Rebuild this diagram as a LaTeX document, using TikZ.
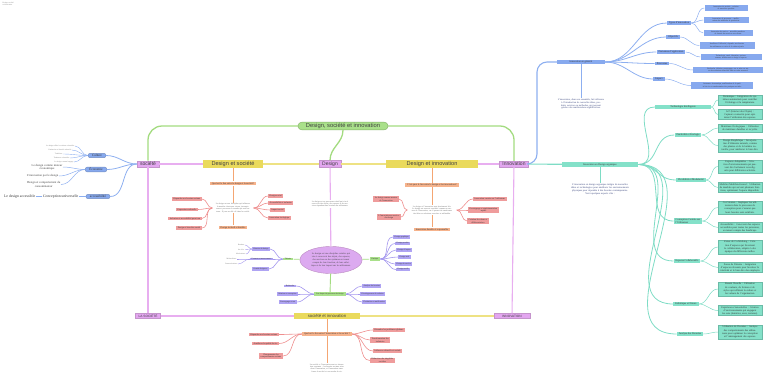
\documentclass[tikz,border=0pt]{standalone}
\usepackage{fontspec}
\setmainfont{Liberation Serif}
\newfontfamily\headfont{Liberation Sans}
\usetikzlibrary{shapes.geometric}
\definecolor{grnline}{HTML}{A3DB80}
\definecolor{grnfill}{HTML}{A9E08A}
\definecolor{magline}{HTML}{E8AEF0}
\definecolor{magfill}{HTML}{E3A6F0}
\definecolor{yelline}{HTML}{EEE283}
\definecolor{yelfill}{HTML}{EADA5C}
\definecolor{oraline}{HTML}{F4A673}
\definecolor{orafill}{HTML}{F6B38C}
\definecolor{redline}{HTML}{EE8E8E}
\definecolor{redfill}{HTML}{EF9C9C}
\definecolor{purline}{HTML}{A497EE}
\definecolor{purfill}{HTML}{AFA4F3}
\definecolor{bluline}{HTML}{8DAFF0}
\definecolor{blufill}{HTML}{87A9EE}
\definecolor{tealine}{HTML}{7EDCC5}
\definecolor{teafill}{HTML}{84E1C9}
\definecolor{elfill}{HTML}{DCAAF0}
\definecolor{navytext}{HTML}{34407A}
\begin{document}
\begin{tikzpicture}[x=1pt,y=-1pt,
  root/.style={draw=grnline!80!black, fill=grnfill, rounded corners=4pt, inner xsep=8pt, inner ysep=1.2pt, font=\headfont\fontsize{5.8}{6}\selectfont, text=black!75},
  topic/.style={draw=magline!85!black, fill=magfill, inner xsep=3pt, inner ysep=1.2pt, font=\headfont\fontsize{5}{5.5}\selectfont, text=black!75},
  subtopic/.style={fill=yelfill, inner ysep=1.3pt, font=\headfont\fontsize{5.6}{6}\selectfont, text=black!75},
  question/.style={fill=orafill, inner xsep=2pt, inner ysep=0.8pt, font=\fontsize{2.4}{2.8}\selectfont, text=black!80},
  redbox/.style={fill=redfill, inner xsep=1.5pt, inner ysep=0.8pt, font=\fontsize{2.2}{2.6}\selectfont, align=center, text=black!80},
  purbox/.style={fill=purfill, inner xsep=1.5pt, inner ysep=0.7pt, font=\fontsize{2}{2.4}\selectfont, text=black!80},
  grnbox/.style={fill=grnfill, inner xsep=2pt, inner ysep=0.7pt, font=\fontsize{2}{2.4}\selectfont, text=black!80},
  blubox/.style={fill=blufill, inner xsep=2pt, inner ysep=1pt, font=\fontsize{2.6}{3}\selectfont, text=black!80},
  sidebox/.style={blubox, draw=bluline!80!black, rounded corners=2pt, inner xsep=4pt, font=\fontsize{3.3}{3.6}\selectfont},
  bluleaf/.style={fill=blufill, inner sep=1pt, font=\fontsize{1.9}{2.3}\selectfont, align=center, text=black!80},
  teabox/.style={fill=teafill, inner xsep=2pt, inner ysep=1pt, font=\fontsize{2.6}{3}\selectfont, align=left, text=black!80},
  tealeaf/.style={fill=teafill, draw=tealine!85!black, line width=0.2pt, inner xsep=1pt, inner ysep=0.8pt, text width=42pt, font=\fontsize{2.55}{3.1}\selectfont, align=center, text=black!80},
  para/.style={fill=white, inner sep=0.5pt, align=center, font=\fontsize{2}{2.45}\selectfont, text=black!60},
  tiny/.style={inner sep=0.5pt, font=\fontsize{1.8}{2.2}\selectfont, text=black!55},
  grn/.style={draw=grnline, line width=1.3pt},
  mag/.style={draw=magline, line width=1.1pt},
  yel/.style={draw=yelline, line width=1.1pt},
  ora/.style={draw=oraline, line width=0.9pt},
  red/.style={draw=redline, line width=0.6pt},
  pur/.style={draw=purline, line width=0.6pt},
  blu/.style={draw=bluline, line width=0.8pt},
  tea/.style={draw=tealine, line width=0.8pt}
]
\useasboundingbox (0,0) rectangle (768,381);

\node[tiny, anchor=north west, align=left] (corner) at (2,1.5) {Design, société\\et innovation};

\node[root] (title) at (343,126) {Design, société et innovation};
\node[topic] (soc) at (148,164) {société};
\node[subtopic, minimum width=60pt] (ds) at (233,164) {Design et société};
\node[topic] (design) at (330,164) {Design};
\node[subtopic, minimum width=92pt] (di) at (432,164) {Design et innovation};
\node[topic] (innov) at (514,164) {Innovation};
\node[topic, font=\headfont\fontsize{3.2}{3.6}\selectfont] (lasoc) at (148,316) {LA SOCIÉTÉ};
\node[subtopic, minimum width=66pt, font=\headfont\fontsize{4.2}{4.6}\selectfont] (si) at (327,316) {société et innovation};
\node[topic, font=\headfont\fontsize{3.2}{3.6}\selectfont, minimum width=36pt] (lainno) at (512,316) {INNOVATION};

\draw[grn, rounded corners=14pt] (title.west) -| (soc.north);
\draw[grn, rounded corners=14pt] (title.east) -| (innov.north);
\draw[grn] (title.south) to[out=-90,in=90] (design.north);
\draw[mag] (soc) -- (ds);
\draw[yel] (ds) -- (design);
\draw[yel] (design) -- (di);
\draw[mag] (di) -- (innov);
\draw[mag] (soc) -- (lasoc);
\draw[mag] (innov) -- (lainno);
\draw[mag] (lasoc) -- (si);
\draw[yel] (si) -- (lainno);

% societe, branches bleues
\node[sidebox] (cult) at (97,155.5) {Culture};
\node[sidebox] (eco) at (96,169.5) {Économie};
\node[sidebox] (acc) at (98,196.5) {accessibilité};
\draw[blu] (soc.west) to[out=180,in=0] (cult.east);
\draw[blu] (soc.west) to[out=180,in=0] (eco.east);
\draw[blu] (soc.west) to[out=180,in=0] (acc.east);
\node[tiny, anchor=east] (cc1) at (75,146) {Le design reflète les valeurs culturelles};
\node[tiny, anchor=east] (cc2) at (72,150) {Patrimoine et identité culturelle};
\node[tiny, anchor=east] (cc3) at (63,154) {Traditions};
\node[tiny, anchor=east] (cc4) at (70,158) {Tendances culturelles};
\node[tiny, anchor=east] (cc5) at (74,162) {Le design comme langage};
\draw[blu, line width=0.4pt] (cult.west) to[out=180,in=0] (cc1.east);
\draw[blu, line width=0.4pt] (cult.west) to[out=180,in=0] (cc2.east);
\draw[blu, line width=0.4pt] (cult.west) to[out=180,in=0] (cc3.east);
\draw[blu, line width=0.4pt] (cult.west) to[out=180,in=0] (cc4.east);
\draw[blu, line width=0.4pt] (cult.west) to[out=180,in=0] (cc5.east);
\node[tiny, anchor=east, align=center, font=\fontsize{3}{3.3}\selectfont, text=black!75] (ec1) at (63,167) {Le design comme moteur\\économique};
\node[tiny, anchor=east, font=\fontsize{3}{3.3}\selectfont, text=black!75] (ec2) at (59,176) {L'innovation par le design};
\node[tiny, anchor=east, align=center, font=\fontsize{3}{3.3}\selectfont, text=black!75] (ec3) at (61,184.5) {Design et comportement du\\consommateur};
\draw[blu, line width=0.5pt] (eco.west) to[out=180,in=0] (ec1.east);
\draw[blu, line width=0.5pt] (eco.west) to[out=180,in=0] (ec2.east);
\draw[blu, line width=0.5pt] (eco.west) to[out=180,in=0] (ec3.east);
\node[tiny, anchor=east, font=\fontsize{3.8}{4.2}\selectfont, text=black!80] (ac1) at (79,196.5) {Conception universelle};
\node[tiny, anchor=east, font=\fontsize{3.8}{4.2}\selectfont, text=black!80] (ac2) at (36,196.5) {Le design accessible};
\draw[blu, line width=0.5pt] (acc.west) -- (ac1.east);
\draw[blu, line width=0.5pt] (ac1.west) -- (ac2.east);

% design et societe
\node[question] (dsq) at (233,183.5) {Quel est le lien entre le design et la société?};
\node[para, text width=40pt] (dsp) at (233,208) {Le design est une discipline qui influence la manière dont nous vivons, interagissons et percevons le monde qui nous entoure. Il joue un rôle clé dans la société.};
\node[question] (dsb) at (233,227.5) {Design inclusif et durable};
\draw[ora] (ds) -- (dsq);
\draw[ora] (dsq) -- (dsp);
\draw[ora] (dsp) -- (dsb);
\node[redbox, anchor=east] (dsl1) at (202,199) {Répondre aux besoins sociaux};
\node[redbox, anchor=east] (dsl2) at (198,209.5) {Expression culturelle};
\node[redbox, anchor=east] (dsl3) at (202,218.5) {Inclusion et accessibilité pour tous};
\node[redbox, anchor=east] (dsl4) at (202,228) {Design et bien-être social};
\node[redbox, anchor=west] (dsr1) at (268,196) {Design social};
\node[redbox, anchor=west] (dsr2) at (268,203) {Accessibilité et inclusion};
\node[redbox, anchor=west] (dsr3) at (270,210) {Impact social};
\node[redbox, anchor=west] (dsr4) at (268,218) {Innovation écologique};
\draw[red] (dsp.west) to[out=180,in=0] (dsl1.east);
\draw[red] (dsp.west) to[out=180,in=0] (dsl2.east);
\draw[red] (dsp.west) to[out=180,in=0] (dsl3.east);
\draw[red] (dsp.west) to[out=180,in=0] (dsl4.east);
\draw[red] (dsp.east) to[out=0,in=180] (dsr1.west);
\draw[red] (dsp.east) to[out=0,in=180] (dsr2.west);
\draw[red] (dsp.east) to[out=0,in=180] (dsr3.west);
\draw[red] (dsp.east) to[out=0,in=180] (dsr4.west);

% design
\node[ellipse, draw=magline!80!black, fill=elfill, minimum width=62pt, minimum height=27pt, text width=44pt, align=center, inner sep=0pt, font=\fontsize{2.3}{2.8}\selectfont, text=black!75] (el) at (331,260) {Le design est une discipline créative qui vise à concevoir des objets, des espaces, des services ou des systèmes en tenant compte de leur fonction, de leur esthétique et de leur impact sur les utilisateurs.};
\draw[mag] (design) -- (el);
\node[para, text width=38pt] (dp) at (330,204) {Le design est un processus créatif qui vise à concevoir des objets, des espaces et des services répondant aux besoins des utilisateurs.};
\node[grnbox] (dth) at (288,259) {Théorie};
\node[grnbox] (dpr) at (375,259) {Pratique};
\draw[grn, line width=0.7pt] (el) -- (dth);
\draw[grn, line width=0.7pt] (el) -- (dpr);
\node[purbox, anchor=east] (dl1) at (270,249) {Histoire du design};
\node[purbox, anchor=east] (dl2) at (273,259) {Courants et mouvements};
\node[purbox, anchor=east] (dl3) at (269,269) {Grands designers};
\draw[pur] (dth.west) to[out=180,in=0] (dl1.east);
\draw[pur] (dth.west) to[out=180,in=0] (dl2.east);
\draw[pur] (dth.west) to[out=180,in=0] (dl3.east);
\node[tiny, anchor=east] (dg1) at (245,245) {Bauhaus};
\node[tiny, anchor=east] (dg2) at (245,249.5) {Art déco};
\node[tiny, anchor=east] (dg3) at (246,254) {Modernisme};
\node[tiny, anchor=east] (dg4) at (237,259) {Minimalisme};
\node[tiny, anchor=east] (dg5) at (238,264) {Postmodernisme};
\draw[pur, line width=0.4pt] (dl1.west) to[out=180,in=0] (dg1.east);
\draw[pur, line width=0.4pt] (dl1.west) to[out=180,in=0] (dg2.east);
\draw[pur, line width=0.4pt] (dl1.west) to[out=180,in=0] (dg3.east);
\draw[pur, line width=0.4pt] (dl2.west) to[out=180,in=0] (dg4.east);
\draw[pur, line width=0.4pt] (dl2.west) to[out=180,in=0] (dg5.east);
\node[purbox, anchor=west] (dr1) at (393,237) {Design graphique};
\node[purbox, anchor=west] (dr2) at (395,243.5) {Design produit};
\node[purbox, anchor=west] (dr3) at (396,250) {Design d'espace};
\node[purbox, anchor=west] (dr4) at (398,257) {Design web};
\node[purbox, anchor=west] (dr5) at (395,264) {Design de service};
\node[purbox, anchor=west] (dr6) at (396,269.5) {Design textile};
\draw[pur] (dpr.east) to[out=0,in=180] (dr1.west);
\draw[pur] (dpr.east) to[out=0,in=180] (dr2.west);
\draw[pur] (dpr.east) to[out=0,in=180] (dr3.west);
\draw[pur] (dpr.east) to[out=0,in=180] (dr4.west);
\draw[pur] (dpr.east) to[out=0,in=180] (dr5.west);
\draw[pur] (dpr.east) to[out=0,in=180] (dr6.west);
\node[grnbox] (dproc) at (330,294) {Les étapes du processus de design};
\draw[grn, line width=0.9pt] (el) -- (dproc);
\node[purbox, anchor=east] (dpl1) at (296,286) {Recherche};
\node[purbox, anchor=east] (dpl2) at (298,294) {Idéation et conception};
\node[purbox, anchor=east] (dpl3) at (297,302) {Prototypage et test};
\node[purbox, anchor=west] (dpr1) at (362,286) {Analyse des besoins};
\node[purbox, anchor=west] (dpr2) at (360,294) {Développement de solution};
\node[purbox, anchor=west] (dpr3) at (362,302) {Évaluation et amélioration};
\draw[pur] (dproc.west) to[out=180,in=0] (dpl1.east);
\draw[pur] (dproc.west) to[out=180,in=0] (dpl2.east);
\draw[pur] (dproc.west) to[out=180,in=0] (dpl3.east);
\draw[pur] (dproc.east) to[out=0,in=180] (dpr1.west);
\draw[pur] (dproc.east) to[out=0,in=180] (dpr2.west);
\draw[pur] (dproc.east) to[out=0,in=180] (dpr3.west);

% design et innovation
\node[question] (diq) at (432,185) {C'est quoi le lien entre le design et les innovations?};
\node[para, text width=48pt] (dip) at (432,210) {Le design et l'innovation sont étroitement liés. Le design est souvent considéré comme un moteur de l'innovation, car il permet de transformer des idées en solutions concrètes et utilisables.};
\node[question] (dib) at (432,229.5) {Innovation durable et responsable};
\draw[ora] (di) -- (diq);
\draw[ora] (diq) -- (dip);
\draw[ora] (dip) -- (dib);
\node[redbox, anchor=east] (dil1) at (399,199) {Le design comme moteur\\de l'innovation};
\node[redbox, anchor=east] (dil2) at (401,217) {L'innovation au service\\du design};
\node[redbox, anchor=west] (dir1) at (473,199) {Innovation centrée sur l'utilisateur};
\node[redbox, anchor=west] (dir2) at (468,210) {Prototypage et expérimentation\\rapide};
\node[redbox, anchor=west] (dir3) at (467,221) {Création de valeur et\\différenciation};
\draw[red] (dip.west) to[out=180,in=0] (dil1.east);
\draw[red] (dip.west) to[out=180,in=0] (dil2.east);
\draw[red] (dip.east) to[out=0,in=180] (dir1.west);
\draw[red] (dip.east) to[out=0,in=180] (dir2.west);
\draw[red] (dip.east) to[out=0,in=180] (dir3.west);

% societe et innovation
\node[question] (siq) at (327,334) {Quel est le lien entre l'innovation et la société ?};
\node[para, text width=42pt] (sip) at (327,368) {La société et l'innovation sont en interaction constante : les besoins sociaux stimulent l'innovation, et l'innovation transforme la société et nos modes de vie.};
\draw[ora] (si) -- (siq);
\draw[ora] (siq) -- (sip);
\node[redbox, anchor=east] (sil1) at (279,334.5) {Répondre aux besoins sociaux};
\node[redbox, anchor=east] (sil2) at (279,343.5) {Améliorer la qualité de vie};
\node[redbox, anchor=east] (sil3) at (283,356) {Changements des\\comportements sociaux};
\node[redbox, anchor=west] (sir1) at (373,330) {Résoudre les problèmes globaux};
\node[redbox, anchor=west] (sir2) at (370,340) {Transformation des\\industries};
\node[redbox, anchor=west] (sir3) at (373,351) {Influence culturelle et sociale};
\node[redbox, anchor=west] (sir4) at (370,360.5) {Réduction des inégalités\\sociales};
\draw[red] (siq.west) to[out=180,in=0] (sil1.east);
\draw[red] (siq.west) to[out=180,in=0] (sil2.east);
\draw[red] (siq.west) to[out=180,in=0] (sil3.east);
\draw[red] (siq.east) to[out=0,in=180] (sir1.west);
\draw[red] (siq.east) to[out=0,in=180] (sir2.west);
\draw[red] (siq.east) to[out=0,in=180] (sir3.west);
\draw[red] (siq.east) to[out=0,in=180] (sir4.west);

% innovation en general
\node[blubox, minimum width=48pt] (ig) at (581,62) {Innovation en général};
\draw[blu, line width=1.1pt, rounded corners=10pt] (innov.east) -- (537,164) |- (ig.west);
\node[para, text width=54pt, fill=none, font=\fontsize{2.4}{2.9}\selectfont, text=navytext] (igp) at (581,104) {L'innovation, dans son ensemble, fait référence à l'introduction de nouvelles idées, produits, services ou méthodes, qui peuvent générer des améliorations significatives.};
\draw[blu] (ig) -- (igp);
\node[blubox] (ig1) at (679,23) {Types d'innovation};
\node[blubox] (ig2) at (673,37) {Objectifs};
\node[blubox] (ig3) at (671,52) {Domaines d'application};
\node[blubox] (ig4) at (662,63.5) {Processus};
\node[blubox] (ig5) at (659,79) {Impact};
\draw[blu] (ig.east) to[out=0,in=180] (ig1.west);
\draw[blu] (ig.east) to[out=0,in=180] (ig2.west);
\draw[blu] (ig.east) to[out=0,in=180] (ig3.west);
\draw[blu] (ig.east) to[out=0,in=180] (ig4.west);
\draw[blu] (ig.east) to[out=0,in=180] (ig5.west);
\node[bluleaf, text width=41pt] (igl1) at (726,8) {Innovation de produit : création\\de nouveaux produits};
\node[bluleaf, text width=43pt] (igl2) at (726,20) {Innovation de processus : amélioration des méthodes de production};
\node[bluleaf, text width=47pt] (igl3) at (728,33) {Innovation de service : nouvelles manières de fournir des services aux clients};
\node[bluleaf, text width=53pt] (igl4) at (727,45.5) {Améliorer l'efficacité, répondre aux besoins des utilisateurs et créer de la valeur ajoutée};
\node[bluleaf, text width=59pt] (igl5) at (731,57) {Technologie, santé, éducation, environnement, architecture et design d'espaces};
\node[bluleaf, text width=68pt] (igl6) at (728,70) {Recherche, idéation, prototypage, test et mise en œuvre des solutions nouvelles dans un cadre structuré};
\node[bluleaf, text width=60pt] (igl7) at (722,85.5) {Croissance économique, amélioration de la qualité de vie et transformation des pratiques sociales};
\draw[blu, line width=0.5pt] (ig1.east) to[out=0,in=180] (igl1.west);
\draw[blu, line width=0.5pt] (ig1.east) to[out=0,in=180] (igl2.west);
\draw[blu, line width=0.5pt] (ig1.east) to[out=0,in=180] (igl3.west);
\draw[blu, line width=0.5pt] (ig2.east) to[out=0,in=180] (igl4.west);
\draw[blu, line width=0.5pt] (ig3.east) to[out=0,in=180] (igl5.west);
\draw[blu, line width=0.5pt] (ig4.east) to[out=0,in=180] (igl6.west);
\draw[blu, line width=0.5pt] (ig5.east) to[out=0,in=180] (igl7.west);

% innovation en design organique
\node[teabox, minimum width=76pt, align=center] (ido) at (600,164.5) {Innovation en Design organique};
\draw[tea, line width=1.1pt] (innov) -- (ido);
\node[para, text width=76pt, fill=none, font=\fontsize{2.5}{3}\selectfont, text=navytext] (idop) at (600,189) {L'innovation en design organique intègre de nouvelles idées et technologies pour améliorer les environnements physiques pour répondre à des besoins contemporains.\\Voici quelques aspects clés :};
\draw[tea] (ido) -- (idop);
\node[teabox, minimum width=56pt] (to1) at (683,107) {Technologie Intelligente};
\node[teabox] (to2) at (688,135) {Durabilité et Écologie};
\node[teabox] (to3) at (691,180) {Flexibilité et Modularité};
\node[teabox] (to4) at (688,221) {Conception Centrée sur\\l'Utilisateur};
\node[teabox] (to5) at (687,261) {Espaces Collaboratifs};
\node[teabox] (to6) at (686,304) {Esthétique et Nature};
\node[teabox] (to7) at (690,334) {Analyse des Données};
\draw[tea] (ido.east) to[out=0,in=180,looseness=1.2] (to1.west);
\draw[tea] (ido.east) to[out=0,in=180,looseness=1.2] (to2.west);
\draw[tea] (ido.east) to[out=0,in=180,looseness=1.2] (to3.west);
\draw[tea] (ido.east) to[out=0,in=180,looseness=1.2] (to4.west);
\draw[tea] (ido.east) to[out=0,in=180,looseness=1.2] (to5.west);
\draw[tea] (ido.east) to[out=0,in=180,looseness=1.2] (to6.west);
\draw[tea] (ido.east) to[out=0,in=180,looseness=1.2] (to7.west);
\node[tealeaf] (tl1) at (740,100) {Domotique : Intégration de systèmes automatisés pour contrôler l'éclairage et la température.};
\node[tealeaf] (tl2) at (740,114.5) {IoT (Internet des Objets) : Capteurs connectés pour optimiser l'utilisation des espaces.};
\node[tealeaf] (tl3) at (740,128) {Matériaux Écologiques : Utilisation de matériaux durables et recyclés.};
\node[tealeaf] (tl4) at (740,145.5) {Design Biophilique : Incorporation d'éléments naturels, comme des plantes et de la lumière naturelle, pour améliorer le bien-être.};
\node[tealeaf] (tl5) at (740,166.5) {Espaces Adaptables : Création d'environnements qui peuvent être facilement reconfigurés pour différentes activités.};
\node[tealeaf] (tl6) at (740,187.5) {Mobilier Multifonctionnel : Utilisation de meubles qui servent plusieurs fonctions, optimisant l'espace disponible.};
\node[tealeaf] (tl7) at (740,207.5) {Co-Création : Impliquer les utilisateurs dans le processus de conception pour s'assurer que leurs besoins sont satisfaits.};
\node[tealeaf] (tl8) at (740,227.5) {Accessibilité : Concevoir des espaces accessibles pour toutes les personnes, en tenant compte des handicaps.};
\node[tealeaf] (tl9) at (740,247) {Zones de Co-Working : Création d'espaces qui favorisent la collaboration, adaptés à des équipes de différentes tailles.};
\node[tealeaf] (tl10) at (740,267.5) {Zones de Détente : Intégration d'espaces relaxants pour favoriser la créativité et le bien-être des employés.};
\node[tealeaf] (tl11) at (740,289) {Beauté Visuelle : Utilisation de couleurs, de formes et de styles qui reflètent la culture et les valeurs de l'organisation.};
\node[tealeaf] (tl12) at (740,310.5) {Expériences Sensorielles : Création d'environnements qui engagent les sens (lumières, sons, textures).};
\node[tealeaf] (tl13) at (740,332) {Utilisation de Données : Analyse des comportements des utilisateurs pour optimiser la conception et l'aménagement des espaces.};
\draw[tea, line width=0.5pt] (to1.east) to[out=0,in=180] (tl1.west);
\draw[tea, line width=0.5pt] (to1.east) to[out=0,in=180] (tl2.west);
\draw[tea, line width=0.5pt] (to2.east) to[out=0,in=180] (tl3.west);
\draw[tea, line width=0.5pt] (to2.east) to[out=0,in=180] (tl4.west);
\draw[tea, line width=0.5pt] (to3.east) to[out=0,in=180] (tl5.west);
\draw[tea, line width=0.5pt] (to3.east) to[out=0,in=180] (tl6.west);
\draw[tea, line width=0.5pt] (to4.east) to[out=0,in=180] (tl7.west);
\draw[tea, line width=0.5pt] (to4.east) to[out=0,in=180] (tl8.west);
\draw[tea, line width=0.5pt] (to5.east) to[out=0,in=180] (tl9.west);
\draw[tea, line width=0.5pt] (to5.east) to[out=0,in=180] (tl10.west);
\draw[tea, line width=0.5pt] (to6.east) to[out=0,in=180] (tl11.west);
\draw[tea, line width=0.5pt] (to6.east) to[out=0,in=180] (tl12.west);
\draw[tea, line width=0.5pt] (to7.east) to[out=0,in=180] (tl13.west);
\end{tikzpicture}
\end{document}
